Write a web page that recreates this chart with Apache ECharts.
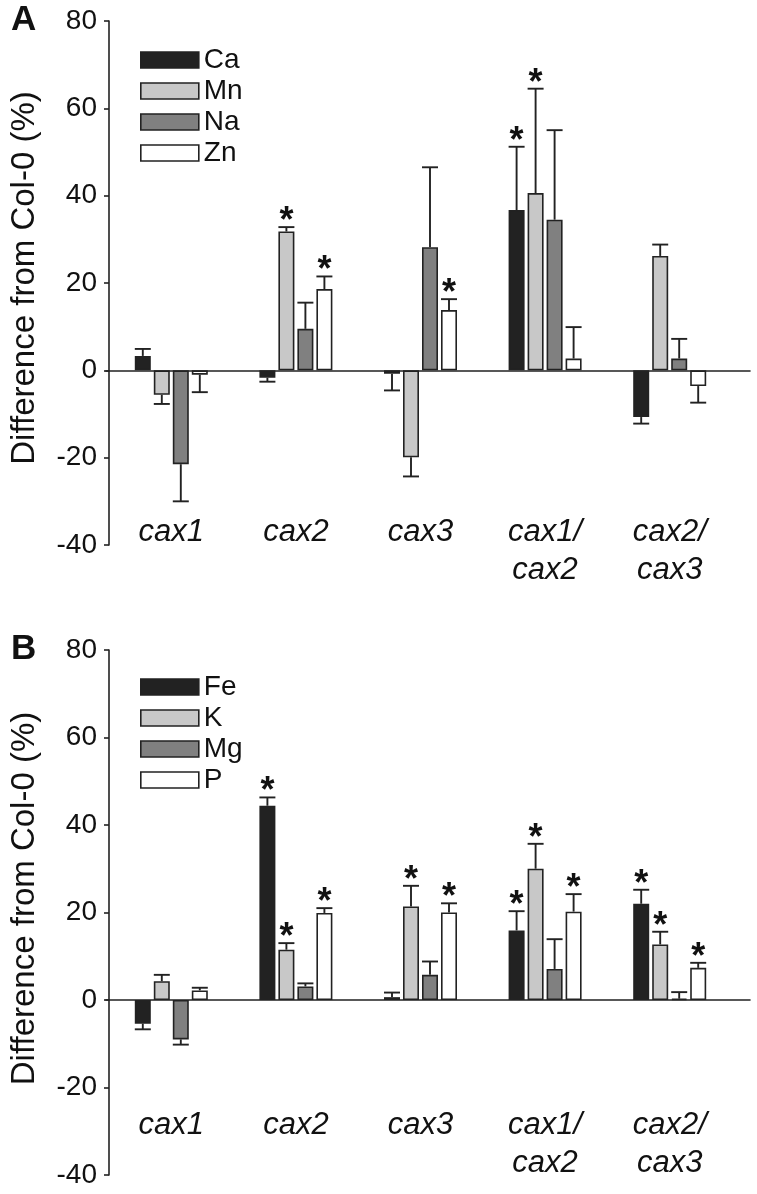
<!DOCTYPE html>
<html>
<head>
<meta charset="utf-8">
<script src="https://cdn.jsdelivr.net/npm/echarts@6/dist/echarts.min.js"></script>
<style>
html,body{margin:0;padding:0;background:#fff;}
#chart{width:757px;height:1194px;}
</style>
</head>
<body>
<div id="chart"></div>
<script>
// ---------- data ----------
const categories = ['cax1', 'cax2', 'cax3', 'cax1/\ncax2', 'cax2/\ncax3'];
const yTicks = { min: -40, max: 80, interval: 20 };
const axisTitle = 'Difference from Col-0 (%)';

// Panel A
const namesA = ['Ca', 'Mn', 'Na', 'Zn'];
const Ca = [3.3, -1.7, -0.8, 36.7, -10.7];
const Mn = [-5.6, 31.8, -19.9, 40.6, 26.2];
const Na = [-21.5, 9.5, 28.2, 34.5, 2.7];
const Zn = [-1.0, 18.6, 13.8, 2.7, -3.6];
const semCa = [1.6, 0.9, 3.8, 14.5, 1.5];
const semMn = [2.1, 1.0, 4.4, 23.9, 2.6];
const semNa = [8.5, 6.0, 18.3, 20.5, 4.5];
const semZn = [4.0, 2.9, 2.5, 7.2, 3.8];
const sigCa = [0, 0, 0, 1, 0];
const sigMn = [0, 1, 0, 1, 0];
const sigNa = [0, 0, 0, 0, 0];
const sigZn = [0, 1, 1, 0, 0];

// Panel B
const namesB = ['Fe', 'K', 'Mg', 'P'];
const Fe = [-5.4, 44.4, 0.65, 15.9, 22.0];
const K  = [4.3, 11.5, 21.4, 30.0, 12.7];
const Mg = [-9.0, 3.1, 5.75, 7.1, 0.3];
const P  = [2.2, 19.9, 20.0, 20.2, 7.35];
const semFe = [1.3, 1.9, 1.05, 4.4, 3.2];
const semK  = [1.45, 1.5, 4.7, 5.7, 2.9];
const semMg = [1.2, 0.7, 3.05, 6.8, 1.5];
const semP  = [0.6, 1.1, 2.1, 4.0, 1.15];
const sigFe = [0, 1, 0, 1, 1];
const sigK  = [0, 1, 1, 1, 1];
const sigMg = [0, 0, 0, 0, 0];
const sigP  = [0, 1, 1, 1, 1];

// ---------- styling ----------
const FONT = "'Liberation Sans', Arial, Helvetica, sans-serif";
const INK = '#222222';
const fills = ['#222222', '#c8c8c8', '#808080', '#ffffff'];
const BAR_W = 16;
const GAP_FRAC = 0.1875;
const STEP = BAR_W * (1 + GAP_FRAC);

const panels = [
  { letter: 'A', names: namesA, vals: [Ca, Mn, Na, Zn], sems: [semCa, semMn, semNa, semZn], sigs: [sigCa, sigMn, sigNa, sigZn],
    top: 21, height: 524, legendTop: 46, labelMargin: -32, letterTop: 3, titleShift: 10 },
  { letter: 'B', names: namesB, vals: [Fe, K, Mg, P], sems: [semFe, semK, semMg, semP], sigs: [sigFe, sigK, sigMg, sigP],
    top: 650, height: 525, legendTop: 673, labelMargin: -69, letterTop: 632, titleShift: 28 }
];

const grid = [], xAxis = [], yAxis = [], series = [], legend = [], title = [];

panels.forEach((p, pi) => {
  grid.push({ left: 106, width: 626, top: p.top, height: p.height, containLabel: false });
  xAxis.push({
    type: 'category', gridIndex: pi, data: categories, position: 'bottom',
    axisLine: { show: false, onZero: false }, axisTick: { show: false },
    axisLabel: { margin: p.labelMargin, fontFamily: FONT, fontSize: 31, fontStyle: 'italic', color: '#111', lineHeight: 38, interval: 0 },
    splitLine: { show: false }
  });
  yAxis.push({
    type: 'value', gridIndex: pi, min: yTicks.min, max: yTicks.max, interval: yTicks.interval,
    axisLine: { show: true, lineStyle: { color: INK, width: 1.6 } },
    axisTick: { show: true, length: 5, lineStyle: { color: INK, width: 1.6 } },
    axisLabel: { fontFamily: FONT, fontSize: 28, color: '#111', margin: 12 },
    splitLine: { show: false },
    name: axisTitle, nameLocation: 'middle', nameRotate: 90, nameGap: 68,
    nameTextStyle: { fontFamily: FONT, fontSize: 33, color: '#111', padding: [0, 0, 0, p.titleShift] }
  });
  p.names.forEach((nm, si) => {
    series.push({
      name: nm, type: 'bar', xAxisIndex: pi, yAxisIndex: pi,
      data: p.vals[si], barWidth: BAR_W, barGap: (GAP_FRAC * 100) + '%',
      itemStyle: { color: fills[si], borderColor: INK, borderWidth: 1.6 },
      emphasis: { disabled: true }, animation: false
    });
  });
  const ebData = [];
  p.names.forEach((nm, si) => {
    p.vals[si].forEach((v, ci) => {
      const end = v >= 0 ? v + p.sems[si][ci] : v - p.sems[si][ci];
      ebData.push([ci, si, v, end, p.sigs[si][ci]]);
    });
  });
  series.push({
    type: 'custom', xAxisIndex: pi, yAxisIndex: pi, data: ebData, z: 5, animation: false,
    renderItem: function (params, api) {
      const ci = api.value(0), si = api.value(1), v = api.value(2), e = api.value(3), sig = api.value(4);
      const p0 = api.coord([ci, v]);
      const p1 = api.coord([ci, e]);
      const x = p0[0] + (si - 1.5) * STEP;
      const ls = { stroke: INK, lineWidth: 1.9 };
      const children = [
        { type: 'line', shape: { x1: x, y1: p0[1], x2: x, y2: p1[1] }, style: ls },
        { type: 'line', shape: { x1: x - 8, y1: p1[1], x2: x + 8, y2: p1[1] }, style: ls }
      ];
      if (sig) {
        children.push({ type: 'text', style: { text: '*', x: x, y: p1[1] - 5, align: 'center', verticalAlign: 'middle',
          fontFamily: FONT, fontSize: 36, fontWeight: 'bold', fill: '#111' } });
      }
      return { type: 'group', children: children };
    }
  });
  legend.push({
    data: p.names, orient: 'vertical', left: 140, top: p.legendTop, padding: 0,
    itemWidth: 58, itemHeight: 16, itemGap: 3, icon: 'rect',
    itemStyle: { borderColor: INK, borderWidth: 1.6 },
    textStyle: { fontFamily: FONT, fontSize: 28, color: '#111' },
    selectedMode: false
  });
  title.push({ text: p.letter, left: 11, top: p.letterTop, padding: 0,
    textStyle: { fontFamily: FONT, fontSize: 35, fontWeight: 'bold', color: '#111' } });
});

// overlay grids: the zero baseline that runs past the last group
panels.forEach((p, pi) => {
  const gi = grid.length;
  grid.push({ left: 106, right: 7, top: p.top, height: p.height });
  xAxis.push({ type: 'value', gridIndex: gi, min: 0, max: 1,
    axisLine: { show: true, onZero: true, lineStyle: { color: INK, width: 1.6 } },
    axisTick: { show: false }, axisLabel: { show: false }, splitLine: { show: false } });
  yAxis.push({ type: 'value', gridIndex: gi, min: yTicks.min, max: yTicks.max, show: false, splitLine: { show: false } });
});

const chart = echarts.init(document.getElementById('chart'), null, { renderer: 'canvas' });
chart.setOption({ animation: false, backgroundColor: '#fff', title, legend, grid, xAxis, yAxis, series });
</script>
</body>
</html>
